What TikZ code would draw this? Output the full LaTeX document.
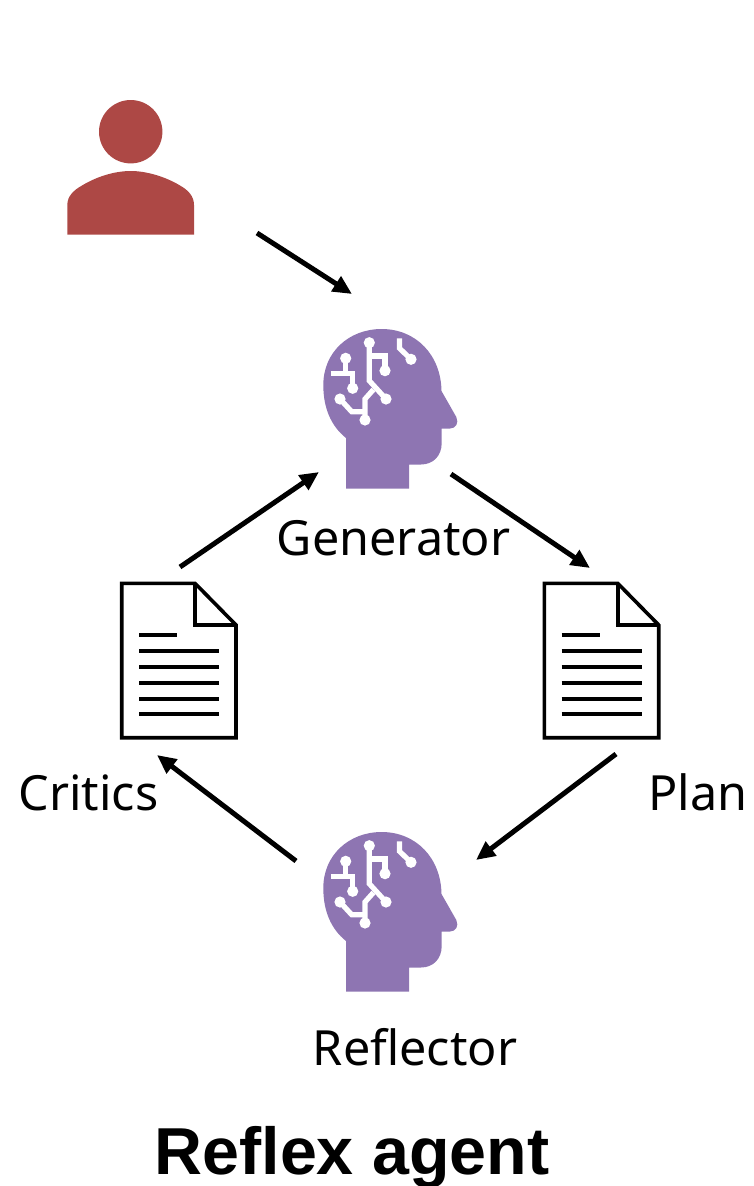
\documentclass[tikz,border=0pt]{standalone}
\usepackage{fontspec}
\setmainfont{Liberation Sans}
\newfontfamily\lblfont{Noto Sans}
\usetikzlibrary{arrows.meta}
\definecolor{headc}{HTML}{8E75B2}
\definecolor{userc}{HTML}{AD4845}
\tikzset{
  x=1pt,y=-1pt,
  flow/.style={draw=black,line width=5pt,-{Triangle[length=19pt,width=17pt]},shorten >=0pt},
  lbl/.style={inner sep=0pt,anchor=base,font=\lblfont\fontsize{48.5}{48.5}\selectfont},
  ttl/.style={inner sep=0pt,anchor=base,font=\fontsize{66.4}{66.4}\selectfont\bfseries},
  iconbox/.style={inner sep=0pt,minimum width=#1,draw=none},
  wire/.style={draw=white,line width=5.2pt,line join=miter},
  dot/.style={fill=white},
  docline/.style={draw=black,line width=3.6pt},
  txtline/.style={draw=black,line width=4.2pt},
  pics/head/.style={code={
    \fill[headc] (36,168.5) -- (36,118)
      .. controls (21,106) and (13.3,88) .. (13.3,65)
      .. controls (13.3,32) and (39,9) .. (71.7,9)
      .. controls (106,9) and (131,35) .. (131.5,71)
      -- (146.3,97)
      .. controls (149,103) and (146,108.5) .. (140,108.5)
      -- (131.7,108.5) -- (131.7,123)
      .. controls (131.7,136) and (123,144.5) .. (111,144.5)
      -- (99,144.5) -- (99,168.5) -- cycle;
    \draw[wire] (59.3,22.7) -- (59.3,60.7) -- (76,79);
    \draw[wire] (59.3,36) -- (75,36) -- (75,50.7);
    \draw[wire] (63.5,69.5) -- (55,79) -- (55,100);
    \draw[wire] (35.7,38.3) -- (35.7,53.3);
    \draw[wire] (20.7,53.3) -- (42.7,53.3) -- (42.7,68.3);
    \draw[wire] (30,79) -- (41.7,91.7) -- (55,91.7);
    \draw[wire] (89.5,18.3) -- (89.5,28.3) -- (101,39.3);
    \foreach \p in {(59.3,22.7),(75,50.7),(76,79),(55,100),(35.7,38.3),(42.7,68.3),(30,79),(101,39.3)}
      \fill[dot] \p circle (5.6);
  }},
  pics/doc/.style={code={
    \draw[docline,line join=miter,fill=white] (21.7,13.3) -- (95,13.3) -- (136,55) -- (136,167.7) -- (21.7,167.7) -- cycle;
    \draw[docline,line join=miter] (95,13.3) -- (95,55) -- (136,55);
    \draw[txtline] (39,65) -- (77,65);
    \foreach \y in {81,97,113,129,144.3}
      \draw[txtline] (39,\y) -- (119,\y);
  }},
}
\begin{document}
\begin{tikzpicture}
\useasboundingbox (0,0) rectangle (754,1186);
% user icon
\fill[userc] (130.7,131.7) circle (31.7);
\fill[userc] (67.3,234.5) -- (67.3,205)
  .. controls (67.3,196) and (74,190) .. (82,185.5)
  .. controls (96,177) and (114,171) .. (130.7,171)
  .. controls (147,171) and (166,177) .. (180,185.5)
  .. controls (188,190) and (194,196) .. (194,205)
  -- (194,234.5) -- cycle;
\node[iconbox=127pt,minimum height=134pt] (user) at (130.7,167) {};
% heads
\pic at (310,320) {head};
\node[iconbox=135pt,minimum height=160pt] (gen) at (390,408) {};
\pic at (310,823) {head};
\node[iconbox=135pt,minimum height=160pt] (refl) at (390,911) {};
% documents
\pic at (100,570) {doc};
\node[iconbox=117pt,minimum height=157pt] (crit) at (179,660) {};
\pic at (522.7,570) {doc};
\node[iconbox=117pt,minimum height=157pt] (plan) at (602,660) {};
% labels
\node[lbl] (genl) at (393.5,555) {Generator};
\node[lbl] (critl) at (88.5,810) {Critics};
\node[lbl] (planl) at (698,810) {Plan};
\node[lbl] (refll) at (415,1065) {Reflector};
\node[ttl] (title) at (352,1174) {Reflex agent};
% connector ends
\coordinate (a1) at (257,233); \coordinate (a2) at (352,294);
\coordinate (b1) at (451,474); \coordinate (b2) at (590,568);
\coordinate (c1) at (616,754); \coordinate (c2) at (476,860);
\coordinate (d1) at (296,861); \coordinate (d2) at (157,755);
\coordinate (e1) at (180,567); \coordinate (e2) at (319,472);
\draw[flow] (a1) -- (a2);
\draw[flow] (b1) -- (b2);
\draw[flow] (c1) -- (c2);
\draw[flow] (d1) -- (d2);
\draw[flow] (e1) -- (e2);
\end{tikzpicture}
\end{document}
